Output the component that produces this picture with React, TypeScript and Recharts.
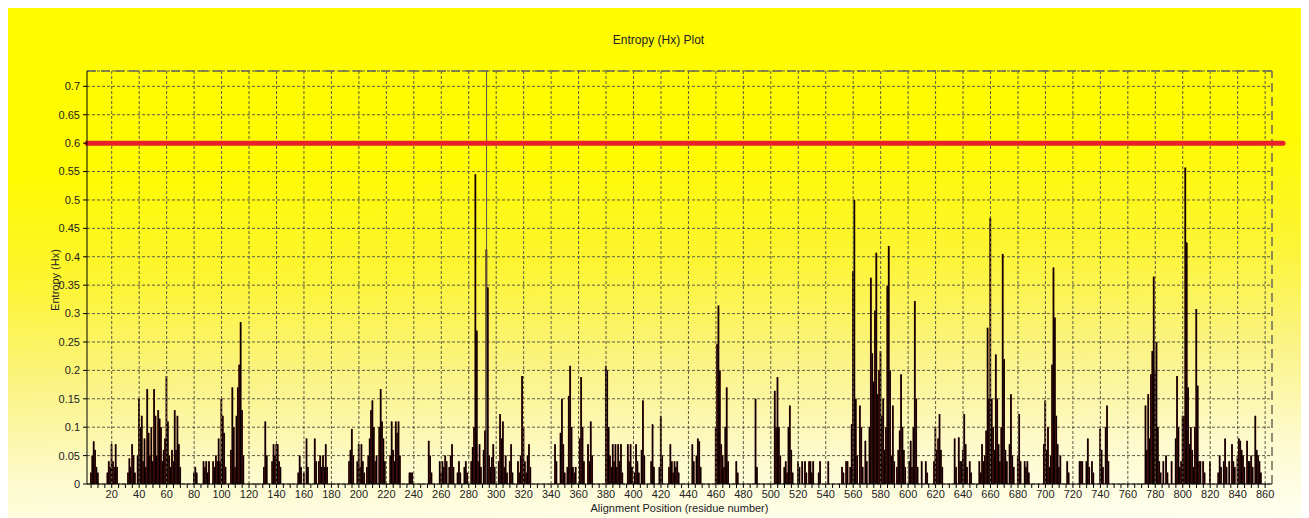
import { BarChart, Bar, XAxis, YAxis, CartesianGrid, ReferenceLine } from "recharts";

// entropy per alignment position, [position, Hx]; positions not listed are 0
const hx1To100: [number, number][] = [
  [5, 0.02], [6, 0.05], [7, 0.075], [8, 0.06], [9, 0.03], [10, 0.02],
  [17, 0.02], [18, 0.04], [19, 0.03], [20, 0.07], [21, 0.04], [22, 0.03], [23, 0.07], [24, 0.03],
  [32, 0.02], [33, 0.045], [34, 0.03], [35, 0.07], [36, 0.05], [37, 0.02],
  [39, 0.05], [40, 0.15], [41, 0.1], [42, 0.12], [43, 0.04], [44, 0.08], [45, 0.03], [46, 0.167],
  [47, 0.09], [48, 0.05], [49, 0.1], [50, 0.04], [51, 0.167], [52, 0.12], [53, 0.05], [54, 0.13],
  [55, 0.115], [56, 0.1], [57, 0.04], [58, 0.06], [59, 0.08], [60, 0.19], [61, 0.11], [62, 0.05],
  [63, 0.03], [64, 0.06], [65, 0.04], [66, 0.13], [67, 0.06], [68, 0.12], [69, 0.07], [70, 0.03],
  [80, 0.02], [81, 0.03], [82, 0.02],
  [87, 0.04], [88, 0.03], [89, 0.04], [90, 0.02], [91, 0.04],
  [94, 0.04], [95, 0.03], [96, 0.05], [97, 0.04], [98, 0.08], [99, 0.04], [100, 0.15],
];

const hx101To200: [number, number][] = [
  [101, 0.12], [102, 0.09], [103, 0.03],
  [107, 0.06], [108, 0.17], [109, 0.1], [110, 0.03], [111, 0.12], [112, 0.17], [113, 0.21],
  [114, 0.285], [115, 0.13], [116, 0.05],
  [131, 0.03], [132, 0.11], [133, 0.05],
  [137, 0.04], [138, 0.07], [139, 0.05], [140, 0.07], [141, 0.07], [142, 0.04], [143, 0.03],
  [156, 0.02], [157, 0.05], [158, 0.03], [160, 0.02], [162, 0.08], [163, 0.03], [168, 0.08], [169, 0.04],
  [171, 0.04], [172, 0.05], [173, 0.03], [174, 0.05], [175, 0.03], [176, 0.07], [177, 0.03],
  [193, 0.04], [194, 0.06], [195, 0.097], [196, 0.05],
  [199, 0.04], [200, 0.07],
];

const hx201To300: [number, number][] = [
  [201, 0.03], [202, 0.07], [203, 0.04], [204, 0.02],
  [206, 0.03], [207, 0.05], [208, 0.08], [209, 0.13], [210, 0.147], [211, 0.1], [212, 0.04], [213, 0.05],
  [215, 0.1], [216, 0.167], [217, 0.11], [218, 0.08], [219, 0.04],
  [223, 0.05], [224, 0.11], [225, 0.06], [226, 0.04], [227, 0.11], [228, 0.09], [229, 0.11], [230, 0.05],
  [237, 0.02], [238, 0.02], [239, 0.02],
  [251, 0.076], [252, 0.05], [253, 0.02],
  [259, 0.04], [260, 0.02], [261, 0.04], [262, 0.03], [263, 0.05], [264, 0.04], [266, 0.03],
  [267, 0.05], [268, 0.07], [269, 0.03],
  [272, 0.02], [273, 0.04], [274, 0.02], [277, 0.03], [278, 0.04], [279, 0.02],
  [282, 0.04], [283, 0.065], [284, 0.1], [285, 0.545], [286, 0.27], [287, 0.04], [288, 0.07], [289, 0.03],
  [291, 0.06], [292, 0.094], [293, 0.413], [294, 0.346], [295, 0.05], [296, 0.03], [297, 0.047],
  [298, 0.07], [299, 0.03],
];

const hx301To400: [number, number][] = [
  [302, 0.04], [303, 0.123], [304, 0.08], [305, 0.11], [306, 0.03], [307, 0.05], [308, 0.02],
  [310, 0.04], [311, 0.07], [312, 0.02],
  [316, 0.04], [317, 0.02], [318, 0.05], [319, 0.19], [320, 0.1], [321, 0.04], [322, 0.02],
  [323, 0.05], [324, 0.07], [325, 0.03],
  [343, 0.07], [344, 0.04],
  [347, 0.09], [348, 0.15], [349, 0.07], [350, 0.02], [352, 0.03], [353, 0.155], [354, 0.208],
  [355, 0.1], [356, 0.03], [357, 0.02], [358, 0.03],
  [361, 0.08], [362, 0.188], [363, 0.1], [364, 0.04],
  [367, 0.07], [368, 0.04], [369, 0.11], [370, 0.05],
  [380, 0.208], [381, 0.2], [382, 0.1], [383, 0.05], [384, 0.03], [385, 0.07], [386, 0.04],
  [387, 0.07], [388, 0.03], [389, 0.07], [390, 0.04], [391, 0.07], [392, 0.02],
  [396, 0.07], [397, 0.04], [398, 0.07], [399, 0.03],
];

const hx401To500: [number, number][] = [
  [401, 0.02], [402, 0.07], [403, 0.04], [404, 0.02], [406, 0.06], [407, 0.147], [408, 0.05],
  [413, 0.04], [414, 0.105], [415, 0.03],
  [419, 0.03], [420, 0.12], [421, 0.05],
  [426, 0.03], [427, 0.07], [428, 0.04], [429, 0.02], [430, 0.04], [431, 0.03], [432, 0.04], [433, 0.02],
  [443, 0.07], [444, 0.04], [446, 0.05], [447, 0.08], [448, 0.075], [449, 0.03],
  [460, 0.1], [461, 0.246], [462, 0.314], [463, 0.2], [464, 0.07], [465, 0.05], [466, 0.03],
  [467, 0.1], [468, 0.17], [469, 0.04],
  [475, 0.04], [476, 0.02],
  [489, 0.15], [490, 0.03],
];

const hx501To600: [number, number][] = [
  [503, 0.164], [504, 0.1], [505, 0.188], [506, 0.1], [507, 0.05],
  [510, 0.03], [511, 0.04], [512, 0.02], [513, 0.1], [514, 0.138], [515, 0.06], [516, 0.02],
  [520, 0.04], [521, 0.03], [523, 0.04], [525, 0.04], [526, 0.02], [528, 0.04], [529, 0.04],
  [530, 0.02], [531, 0.04], [535, 0.02], [536, 0.04], [542, 0.04],
  [552, 0.03], [553, 0.02], [555, 0.04], [556, 0.04], [558, 0.03], [559, 0.105], [560, 0.375],
  [561, 0.5], [562, 0.15], [563, 0.05],
  [565, 0.138], [566, 0.1], [567, 0.03], [569, 0.076], [570, 0.04],
  [572, 0.1], [573, 0.363], [574, 0.23], [575, 0.18], [576, 0.305], [577, 0.407], [578, 0.158],
  [579, 0.2], [580, 0.234], [581, 0.12], [582, 0.15], [583, 0.06], [584, 0.1], [585, 0.349],
  [586, 0.419], [587, 0.2], [588, 0.05], [589, 0.138], [590, 0.04], [592, 0.03], [593, 0.06],
  [594, 0.094], [595, 0.193], [596, 0.1], [597, 0.06], [598, 0.03],
];

const hx601To700: [number, number][] = [
  [601, 0.04], [602, 0.076], [603, 0.03], [604, 0.1], [605, 0.322], [606, 0.15], [607, 0.03],
  [610, 0.04], [613, 0.04], [614, 0.02],
  [619, 0.04], [620, 0.1], [621, 0.06], [622, 0.08], [623, 0.123], [624, 0.06], [625, 0.03],
  [634, 0.08], [635, 0.03], [637, 0.082], [638, 0.04], [639, 0.04], [640, 0.06], [641, 0.123],
  [642, 0.07], [643, 0.03], [645, 0.04], [646, 0.02],
  [652, 0.04], [653, 0.02], [654, 0.07], [655, 0.04], [656, 0.05], [657, 0.094], [658, 0.275],
  [659, 0.15], [660, 0.469], [661, 0.15], [662, 0.1], [663, 0.06], [664, 0.228], [665, 0.15],
  [666, 0.07], [667, 0.04], [668, 0.1], [669, 0.405], [670, 0.22], [671, 0.06], [672, 0.04],
  [674, 0.07], [675, 0.158], [676, 0.05], [677, 0.03], [680, 0.05], [681, 0.123], [682, 0.04],
  [685, 0.04], [686, 0.03], [687, 0.04], [688, 0.02],
  [699, 0.07], [700, 0.147],
];

const hx701To800: [number, number][] = [
  [701, 0.06], [702, 0.1], [703, 0.03], [704, 0.05], [705, 0.21], [706, 0.381], [707, 0.293],
  [708, 0.12], [709, 0.07], [710, 0.03], [711, 0.05],
  [716, 0.04], [717, 0.02],
  [725, 0.04], [726, 0.04], [727, 0.04],
  [730, 0.04], [731, 0.08], [732, 0.03], [734, 0.04], [735, 0.02],
  [740, 0.097], [741, 0.06], [742, 0.03], [744, 0.1], [745, 0.138], [746, 0.04],
  [773, 0.138], [774, 0.06], [775, 0.158], [776, 0.08], [777, 0.193], [778, 0.234], [779, 0.365],
  [780, 0.2], [781, 0.25], [782, 0.1], [783, 0.04], [784, 0.02], [786, 0.04], [788, 0.05],
  [789, 0.02], [792, 0.04],
  [795, 0.08], [796, 0.19], [797, 0.1], [798, 0.03], [799, 0.04], [800, 0.12],
];

const hx801To865: [number, number][] = [
  [801, 0.12], [802, 0.557], [803, 0.425], [804, 0.17], [805, 0.07], [806, 0.1], [807, 0.06],
  [808, 0.03], [809, 0.1], [810, 0.308], [811, 0.173], [812, 0.04], [813, 0.04], [815, 0.04],
  [816, 0.02], [820, 0.04],
  [826, 0.02], [827, 0.05], [828, 0.03], [830, 0.04], [831, 0.08], [832, 0.03], [834, 0.04],
  [836, 0.07], [837, 0.04], [838, 0.03], [840, 0.05], [841, 0.08], [842, 0.076], [843, 0.06],
  [844, 0.05], [845, 0.03], [847, 0.076], [848, 0.04], [849, 0.04], [850, 0.05], [851, 0.03],
  [853, 0.12], [854, 0.06], [855, 0.05], [856, 0.04], [857, 0.02],
];

const LAST_POSITION = 865;
const THRESHOLD = 0.6;
const MARKER_POSITION = 293;
const X_LABEL_TICKS = [20, 40, 60, 80, 100, 120, 140, 160, 180, 200, 220, 240, 260, 280, 300, 320, 340, 360, 380, 400, 420, 440, 460, 480, 500, 520, 540, 560, 580, 600, 620, 640, 660, 680, 700, 720, 740, 760, 780, 800, 820, 840, 860];
const Y_TICKS = [0, 0.05, 0.1, 0.15, 0.2, 0.25, 0.3, 0.35, 0.4, 0.45, 0.5, 0.55, 0.6, 0.65, 0.7];
const Y_MAX = 0.727;
const X_MIN = 2;

const lookup = new Map<number, number>();
[hx1To100, hx101To200, hx201To300, hx301To400, hx401To500, hx501To600, hx601To700, hx701To800, hx801To865]
  .forEach((seg) => seg.forEach(([p, v]) => lookup.set(p, v)));

const data: { pos: number; hx: number }[] = [];
for (let p = 1; p <= LAST_POSITION; p++) data.push({ pos: p, hx: lookup.get(p) ?? 0 });

const minorTicks: number[] = [];
for (let t = 5; t < LAST_POSITION; t += 5) minorTicks.push(t);

const FONT = "Arial, 'Liberation Sans', sans-serif";
const GRID = "#5c5c44";

// thin black bar with a dark red fringe, like the original plot
function EntropyBar(props: any) {
  const { x, y, width, height } = props;
  if (!height || height <= 0) return null;
  const cx = x + width / 2;
  return (
    <g>
      <rect x={cx - 0.9} y={y} width={1.8} height={height} fill="#641010" />
      <rect x={cx - 0.6} y={y} width={1.2} height={height} fill="#000" />
    </g>
  );
}

export default function App() {
  return (
    <div
      style={{
        position: "relative",
        width: 1301,
        height: 510,
        fontFamily: FONT,
        background:
          "linear-gradient(178deg, #fffc00 0%, #fffb00 30%, #fcf533 50%, #fbf383 68%, #fdfacb 85%, #fffff2 100%)",
      }}
    >
      <div style={{ position: "absolute", top: 25, left: 0, width: 1301, textAlign: "center", fontSize: 12, color: "#222" }}>
        Entropy (Hx) Plot
      </div>
      <div
        style={{
          position: "absolute",
          left: 47,
          top: 272,
          transform: "translate(-50%, -50%) rotate(-90deg)",
          fontSize: 11,
          color: "#222",
          whiteSpace: "nowrap",
        }}
      >
        Entropy (Hx)
      </div>
      <div style={{ position: "absolute", left: 79, width: 1185, top: 494, textAlign: "center", fontSize: 11, color: "#222" }}>
        Alignment Position (residue number)
      </div>
      <div style={{ position: "absolute", left: 0, top: 0 }}>
        <BarChart width={1301} height={510} data={data} margin={{ top: 63, right: 37, left: 0, bottom: 0 }} barCategoryGap={0}>
          <CartesianGrid vertical={false} stroke={GRID} strokeDasharray="3 2" />
          {X_LABEL_TICKS.map((t) => (
            <ReferenceLine key={t} x={t} stroke={GRID} strokeDasharray="3 2" />
          ))}
          <XAxis
            dataKey="pos"
            type="number"
            domain={[X_MIN, LAST_POSITION]}
            ticks={minorTicks}
            interval={0}
            allowDataOverflow
            height={34}
            tickSize={4}
            tickMargin={2}
            axisLine={{ stroke: "#000" }}
            tickLine={{ stroke: "#000" }}
            tick={{ fontSize: 11, fill: "#222", fontFamily: FONT }}
            tickFormatter={(v: number) => (v % 20 === 0 ? String(v) : "")}
          />
          <YAxis
            type="number"
            domain={[0, Y_MAX]}
            ticks={Y_TICKS}
            interval={0}
            allowDataOverflow
            width={79}
            tickSize={4}
            tickMargin={3}
            axisLine={{ stroke: "#000" }}
            tickLine={{ stroke: "#000" }}
            tick={{ fontSize: 11, fill: "#222", fontFamily: FONT }}
            tickFormatter={(v: number) => String(Number(v.toFixed(2)))}
          />
          <Bar dataKey="hx" isAnimationActive={false} shape={<EntropyBar />} />
          <ReferenceLine y={Y_MAX} stroke="#6a6a5a" strokeWidth={1.5} strokeDasharray="9 5" />
          <ReferenceLine x={LAST_POSITION} stroke="#6a6a5a" strokeWidth={1.5} strokeDasharray="9 5" />
          <ReferenceLine x={MARKER_POSITION} stroke="#555" strokeWidth={1} />
          <ReferenceLine
            y={THRESHOLD}
            shape={(p: any) => (
              <line x1={p.x1} y1={p.y1} x2={p.x2 + 11} y2={p.y2} stroke="#e8202a" strokeWidth={5} strokeLinecap="round" />
            )}
          />
        </BarChart>
      </div>
    </div>
  );
}
